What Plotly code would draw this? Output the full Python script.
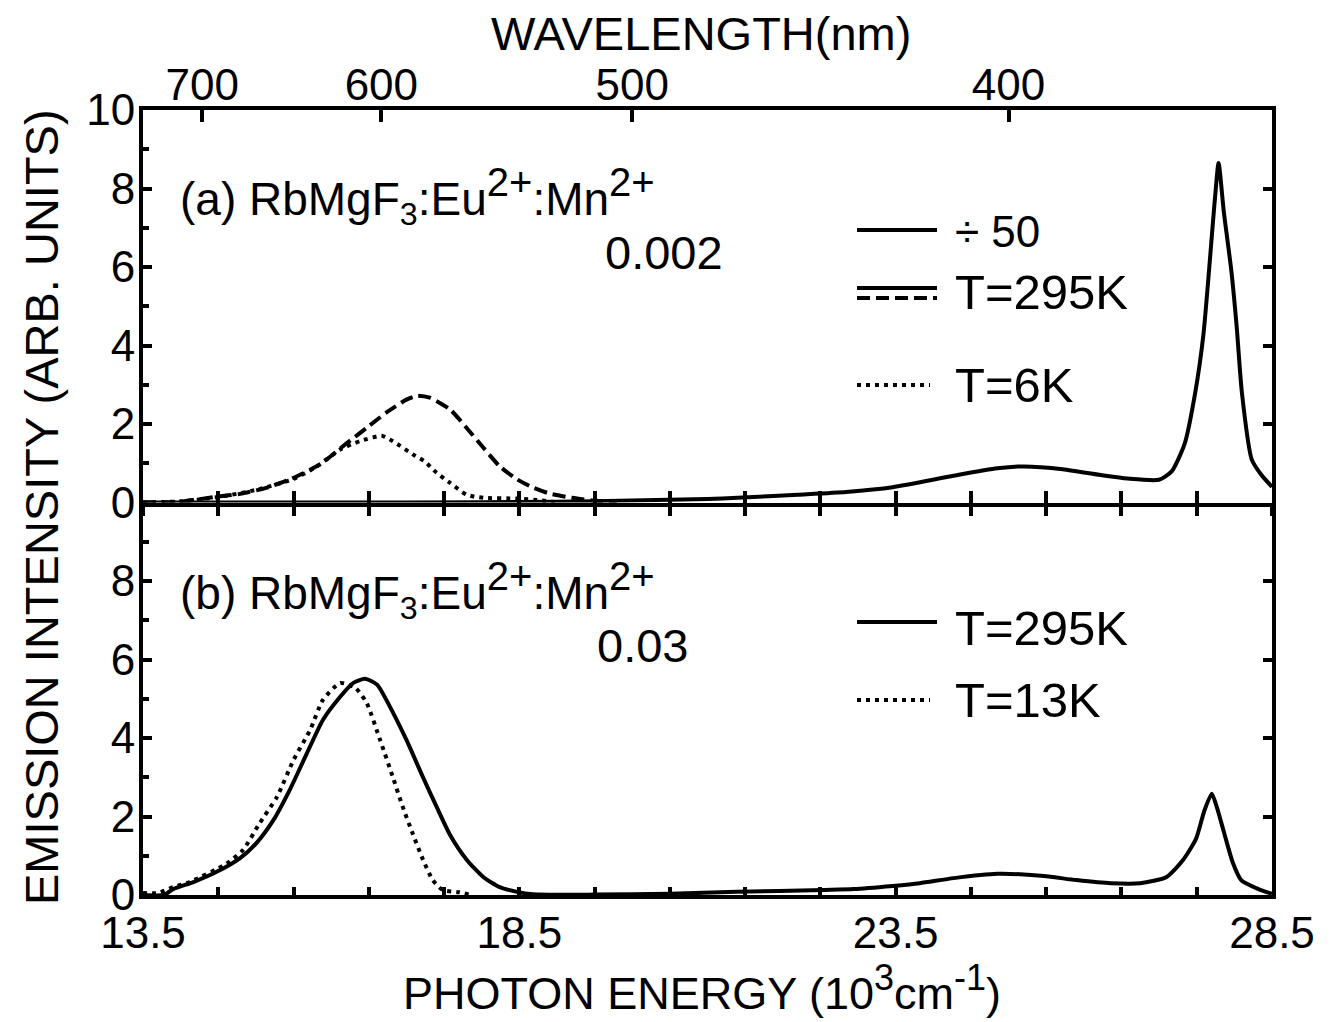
import numpy as np
import plotly.graph_objects as go

# ---------------- data ----------------
# (a) RbMgF3:Eu:Mn 0.002, T=295K, Eu2+ band (divided by 50)
a_uv_E = [13.5, 15.0, 17.0, 19.0, 20.0, 21.0, 21.4, 22.2, 22.84, 23.46, 24.27, 24.85, 25.2, 25.72,
          26.29, 26.58, 27.0, 27.17, 27.34, 27.48, 27.59, 27.74, 27.79, 27.86, 27.96, 28.03, 28.1,
          28.23, 28.36, 28.5]
a_uv_I = [0.0, 0.0, 0.0, 0.02, 0.05, 0.09, 0.12, 0.2, 0.27, 0.39, 0.68, 0.87, 0.92, 0.85,
          0.68, 0.61, 0.58, 0.8, 1.5, 2.8, 4.3, 7.7, 8.65, 7.4, 5.9, 4.5, 2.8,
          1.1, 0.7, 0.4]
# (a) T=295K, Mn2+ band (dashed)
a_295_E = [13.5, 14.0, 14.2, 14.48, 14.79, 15.15, 15.5, 15.85, 16.2, 16.47, 16.74, 17.0, 17.14,
           17.31, 17.58, 17.8, 18.02, 18.24, 18.47, 18.68, 18.9, 19.2, 19.47, 19.8]
a_295_I = [0.0, 0.02, 0.07, 0.15, 0.22, 0.38, 0.63, 0.97, 1.5, 1.9, 2.3, 2.62, 2.72,
           2.67, 2.37, 1.9, 1.4, 0.92, 0.59, 0.38, 0.23, 0.12, 0.05, 0.0]
# (a) T=6K (dotted)
a_6_E = [13.5, 14.0, 14.5, 15.0, 15.5, 15.81, 16.12, 16.38, 16.67, 16.82, 17.09, 17.24, 17.4,
         17.58, 17.8, 18.02, 18.47, 18.8, 19.0]
a_6_I = [0.0, 0.03, 0.14, 0.32, 0.6, 0.92, 1.35, 1.56, 1.7, 1.56, 1.22, 1.05, 0.76,
         0.5, 0.2, 0.12, 0.1, 0.05, 0.0]
# (b) RbMgF3:Eu:Mn 0.03, T=295K (solid)
b_295_E = [13.5, 13.78, 13.9, 14.17, 14.48, 14.79, 15.01, 15.23, 15.45, 15.68, 15.89, 16.12, 16.29,
           16.45, 16.61, 16.78, 17.0, 17.22, 17.4, 17.58, 17.8, 18.02, 18.24, 18.47, 18.68, 19.5,
           20.5, 21.39, 22.54, 22.94, 23.46, 23.82, 24.27, 24.85, 25.43, 25.9, 26.36, 26.75,
           27.1, 27.31, 27.49, 27.6, 27.7, 27.77, 27.86, 27.98, 28.09, 28.32, 28.5]
b_295_I = [0.0, 0.0, 0.15, 0.33, 0.59, 0.94, 1.33, 1.9, 2.68, 3.62, 4.46, 5.05, 5.4,
           5.51, 5.36, 4.8, 3.95, 3.0, 2.25, 1.53, 0.9, 0.46, 0.2, 0.08, 0.02, 0.01,
           0.03, 0.08, 0.13, 0.15, 0.23, 0.3, 0.43, 0.54, 0.49, 0.38, 0.3, 0.3,
           0.46, 0.87, 1.43, 2.14, 2.58, 2.22, 1.61, 0.82, 0.38, 0.15, 0.03]
# (b) T=13K (dotted)
b_13_E = [13.5, 13.7, 13.9, 14.12, 14.61, 14.83, 15.05, 15.28, 15.5, 15.72, 15.89, 16.12, 16.32,
          16.47, 16.65, 16.82, 16.95, 17.08, 17.22, 17.35, 17.48, 17.7, 17.85]
b_13_I = [0.05, 0.05, 0.2, 0.33, 0.8, 1.15, 1.83, 2.5, 3.44, 4.2, 4.97, 5.4, 5.28,
          4.9, 3.95, 3.0, 2.25, 1.58, 0.9, 0.38, 0.13, 0.07, 0.0]

energy_labels = [13.5, 18.5, 23.5, 28.5]
wavelengths_nm = [700, 600, 500, 400]
y_labels_top = [0, 2, 4, 6, 8, 10]
y_labels_bottom = [0, 2, 4, 6, 8]

# ---------------- figure ----------------
FONT = "Liberation Sans, Arial, sans-serif"
BLACK = "black"
LW = 4
XR = [13.5, 28.5]
x_ticks = list(np.arange(13.5, 28.51, 1.0))
x_text_bottom = [("%g" % v) if v in energy_labels else "" for v in x_ticks]
wl_pos = [1e4 / w for w in wavelengths_nm]

fig = go.Figure()

def line(x, y, xa, ya, dash="solid", width=LW, shape="spline"):
    fig.add_trace(go.Scatter(x=x, y=y, xaxis=xa, yaxis=ya, mode="lines",
                             line=dict(color=BLACK, width=width, dash=dash, shape=shape,
                                       smoothing=0.6),
                             showlegend=False, hoverinfo="skip"))

line(a_uv_E, a_uv_I, "x2", "y2")
line(a_295_E, a_295_I, "x2", "y2", dash="13px,6px")
line(a_6_E, a_6_I, "x2", "y2", dash="4px,5px")
line(b_295_E, b_295_I, "x", "y")
line(b_13_E, b_13_I, "x", "y", dash="4px,5px")

# empty traces to bind overlay axes
for xa, ya in [("x3", "y2"), ("x4", "y2"), ("x", "y3"), ("x2", "y4")]:
    fig.add_trace(go.Scatter(x=[], y=[], xaxis=xa, yaxis=ya, showlegend=False))

tickfont = dict(family=FONT, size=44, color=BLACK)
common = dict(showgrid=False, zeroline=False, linecolor=BLACK, linewidth=LW,
              tickcolor=BLACK, tickwidth=LW, tickfont=tickfont)

fig.update_layout(
    width=1332, height=1022,
    margin=dict(l=143, r=60, t=110, b=127),
    paper_bgcolor="white", plot_bgcolor="white",
    font=dict(family=FONT, color=BLACK),
    xaxis=dict(domain=[0, 1], anchor="y", range=XR, tickmode="array", tickvals=x_ticks,
               ticktext=x_text_bottom, ticks="inside", ticklen=8, showline=True,
               ticklabelstandoff=-4, **common),
    xaxis2=dict(domain=[0, 1], anchor="y2", range=XR, tickmode="array", tickvals=x_ticks,
                ticks="inside", ticklen=12, showticklabels=False, showline=True, **common),
    xaxis4=dict(overlaying="x2", anchor="y2", side="bottom", range=XR, tickmode="array",
                tickvals=x_ticks, ticks="outside", ticklen=12, showticklabels=False,
                showline=False, **common),
    xaxis3=dict(overlaying="x2", anchor="y2", side="top", range=XR, tickmode="array",
                tickvals=wl_pos, ticktext=[str(w) for w in wavelengths_nm], ticks="inside",
                ticklen=12, showline=True, ticklabelstandoff=-12, **common),
    yaxis=dict(domain=[0, 0.5], anchor="x", range=[0, 10], tickmode="array",
               tickvals=y_labels_bottom, ticktext=[str(v) for v in y_labels_bottom],
               ticks="inside", ticklen=9, showline=True,
               minor=dict(tickmode="array", tickvals=[1, 3, 5, 7, 9], ticks="inside",
                          ticklen=6, tickwidth=LW, tickcolor=BLACK),
               ticklabelstandoff=-5, **common),
    yaxis2=dict(domain=[0.5, 1], anchor="x2", range=[0, 10], tickmode="array",
                tickvals=y_labels_top, ticktext=[str(v) for v in y_labels_top],
                ticks="inside", ticklen=9, showline=True,
                minor=dict(tickmode="array", tickvals=[1, 3, 5, 7, 9], ticks="inside",
                           ticklen=6, tickwidth=LW, tickcolor=BLACK),
                ticklabelstandoff=-5, **common),
    yaxis3=dict(overlaying="y", anchor="x", side="right", range=[0, 10], tickmode="array",
                tickvals=[2, 4, 6, 8], ticks="inside", ticklen=9, showticklabels=False,
                showline=True, **common),
    yaxis4=dict(overlaying="y2", anchor="x2", side="right", range=[0, 10], tickmode="array",
                tickvals=[2, 4, 6, 8], ticks="inside", ticklen=9, showticklabels=False,
                showline=True, **common),
)

# ---------------- text ----------------
X0, X1, YT, YB = 143.0, 1272.0, 110.0, 895.0
def px(x):
    return (x - X0) / (X1 - X0)
def py(y):
    return (YB - y) / (YB - YT)

def ann(text, x, y, size, xanchor="left", angle=0):
    fig.add_annotation(text=text, x=px(x), y=py(y), xref="paper", yref="paper",
                       xanchor=xanchor, yanchor="middle", showarrow=False, textangle=angle,
                       font=dict(family=FONT, size=size, color=BLACK))

def big_sup(t, size=40):
    return "<sup><span style='font-size:%dpx'>%s</span></sup>" % (size, t)

ann("EMISSION INTENSITY (ARB. UNITS)", 41, 507, 47, xanchor="center", angle=-90)
ann("PHOTON ENERGY (10" + big_sup("3", 36) + "cm" + big_sup("-1", 36) + ")", 702, 988, 45,
    xanchor="center")
ann("WAVELENGTH(nm)", 701, 33, 47, xanchor="center")

formula = "RbMgF<sub>3</sub>:Eu" + big_sup("2+") + ":Mn" + big_sup("2+")
ann("(a) " + formula, 178, 196, 46)
ann("0.002", 603, 253, 47)
ann("(b) " + formula, 178, 590, 46)
ann("0.03", 595, 645, 47)

ann("÷ 50", 953, 232, 44)
ann("T=295K", 953, 292, 49)
ann("T=6K", 953, 385, 49)
ann("T=295K", 953, 628, 49)
ann("T=13K", 953, 700, 49)

def legline(x0, x1, y, dash="solid"):
    fig.add_shape(type="line", xref="paper", yref="paper", x0=px(x0), x1=px(x1),
                  y0=py(y), y1=py(y), line=dict(color=BLACK, width=LW, dash=dash))

legline(857, 937, 230)
legline(857, 937, 288)
legline(857, 937, 298, dash="13px,6px")
legline(857, 930, 385, dash="4px,5px")
legline(857, 937, 622)
legline(857, 930, 700, dash="4px,5px")

fig.write_html("out.html")
